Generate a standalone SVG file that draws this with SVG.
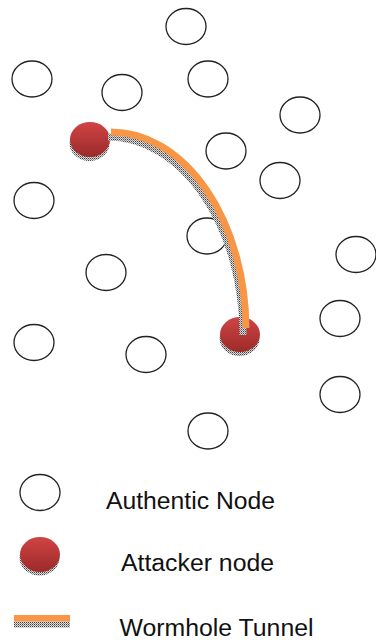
<svg xmlns="http://www.w3.org/2000/svg" width="376" height="643" viewBox="0 0 376 643">
  <style>
    .auth { fill: #ffffff; stroke: #222222; stroke-width: 1.3; }
    .atk { fill: url(#redGrad); }
    .atkShadow { fill: url(#stipple); }
    .tunnel { fill: none; stroke: #F79646; stroke-width: 7; stroke-linecap: butt; }
    .tunnelShadow { fill: none; stroke: url(#stipple); stroke-width: 7; stroke-linecap: butt; }
    .label { font-family: "Liberation Sans", Arial, sans-serif; font-size: 23px; fill: #111111; }
  </style>
  <defs>
    <linearGradient id="redGrad" x1="0" y1="0" x2="0" y2="1">
      <stop offset="0" stop-color="#D04444"/>
      <stop offset="1" stop-color="#9C2A2A"/>
    </linearGradient>
    <!-- stippled grey used for drop shadows -->
    <pattern id="stipple" width="2" height="2" patternUnits="userSpaceOnUse">
      <rect width="2" height="2" fill="#dadada"/>
      <rect width="1" height="1" fill="#444444"/>
      <rect x="1" y="1" width="1" height="1" fill="#8a8a8a"/>
    </pattern>
  </defs>

  <!-- authentic nodes -->
  <g id="n1"><ellipse class="auth" cx="186" cy="26.5" rx="20" ry="18"/></g>
  <g id="n2"><ellipse class="auth" cx="32" cy="79" rx="20" ry="18"/></g>
  <g id="n3"><ellipse class="auth" cx="122" cy="92.5" rx="20" ry="18"/></g>
  <g id="n4"><ellipse class="auth" cx="208" cy="79" rx="20" ry="18"/></g>
  <g id="n5"><ellipse class="auth" cx="300" cy="115" rx="20" ry="18"/></g>
  <g id="n6"><ellipse class="auth" cx="226" cy="151" rx="20" ry="18"/></g>
  <g id="n7"><ellipse class="auth" cx="280" cy="180.5" rx="20" ry="18"/></g>
  <g id="n8"><ellipse class="auth" cx="34" cy="200.5" rx="20" ry="18"/></g>
  <g id="n9"><ellipse class="auth" cx="207" cy="236" rx="20" ry="18"/></g>
  <g id="n10"><ellipse class="auth" cx="356" cy="254.5" rx="20" ry="18"/></g>
  <g id="n11"><ellipse class="auth" cx="106" cy="272.5" rx="20" ry="18"/></g>
  <g id="n12"><ellipse class="auth" cx="340" cy="318.5" rx="20" ry="18"/></g>
  <g id="n13"><ellipse class="auth" cx="34" cy="342.5" rx="20" ry="18"/></g>
  <g id="n14"><ellipse class="auth" cx="146" cy="354.5" rx="20" ry="18"/></g>
  <g id="n15"><ellipse class="auth" cx="340" cy="394.5" rx="20" ry="18"/></g>
  <g id="n16"><ellipse class="auth" cx="208" cy="431" rx="20" ry="18"/></g>

  <!-- attacker nodes -->
  <g id="attackerA">
    <ellipse class="atkShadow" cx="89.5" cy="143.5" rx="20" ry="17.5"/>
    <ellipse class="atk" cx="90" cy="139.5" rx="20" ry="17.5"/>
  </g>
  <g id="attackerB">
    <ellipse class="atkShadow" cx="239.5" cy="338.5" rx="20" ry="17.5"/>
    <ellipse class="atk" cx="240" cy="334.5" rx="20" ry="17.5"/>
  </g>

  <!-- wormhole tunnel between attackers -->
  <g id="connectors">
    <path class="tunnelShadow" d="M111,132 A135,198 0 0 1 246,330" transform="translate(-3,5)"/>
    <path class="tunnel" d="M111,132 A135,198 0 0 1 246,328"/>
  </g>

  <!-- legend -->
  <g id="legendAuthentic">
    <ellipse class="auth" cx="40" cy="492.5" rx="20" ry="18"/>
    <text class="label" x="106" y="509" textLength="169" lengthAdjust="spacingAndGlyphs">Authentic Node</text>
  </g>
  <g id="legendAttacker">
    <ellipse class="atkShadow" cx="39.5" cy="558" rx="20" ry="17.5"/>
    <ellipse class="atk" cx="40" cy="554.5" rx="20" ry="17.5"/>
    <text class="label" x="121" y="571" textLength="153" lengthAdjust="spacingAndGlyphs">Attacker node</text>
  </g>
  <g id="legendTunnel">
    <rect x="14" y="621.5" width="56" height="6" fill="url(#stipple)"/>
    <rect x="14" y="615" width="56" height="6.5" fill="#F79646"/>
    <text class="label" x="119.5" y="636" textLength="194" lengthAdjust="spacingAndGlyphs">Wormhole Tunnel</text>
  </g>
</svg>
